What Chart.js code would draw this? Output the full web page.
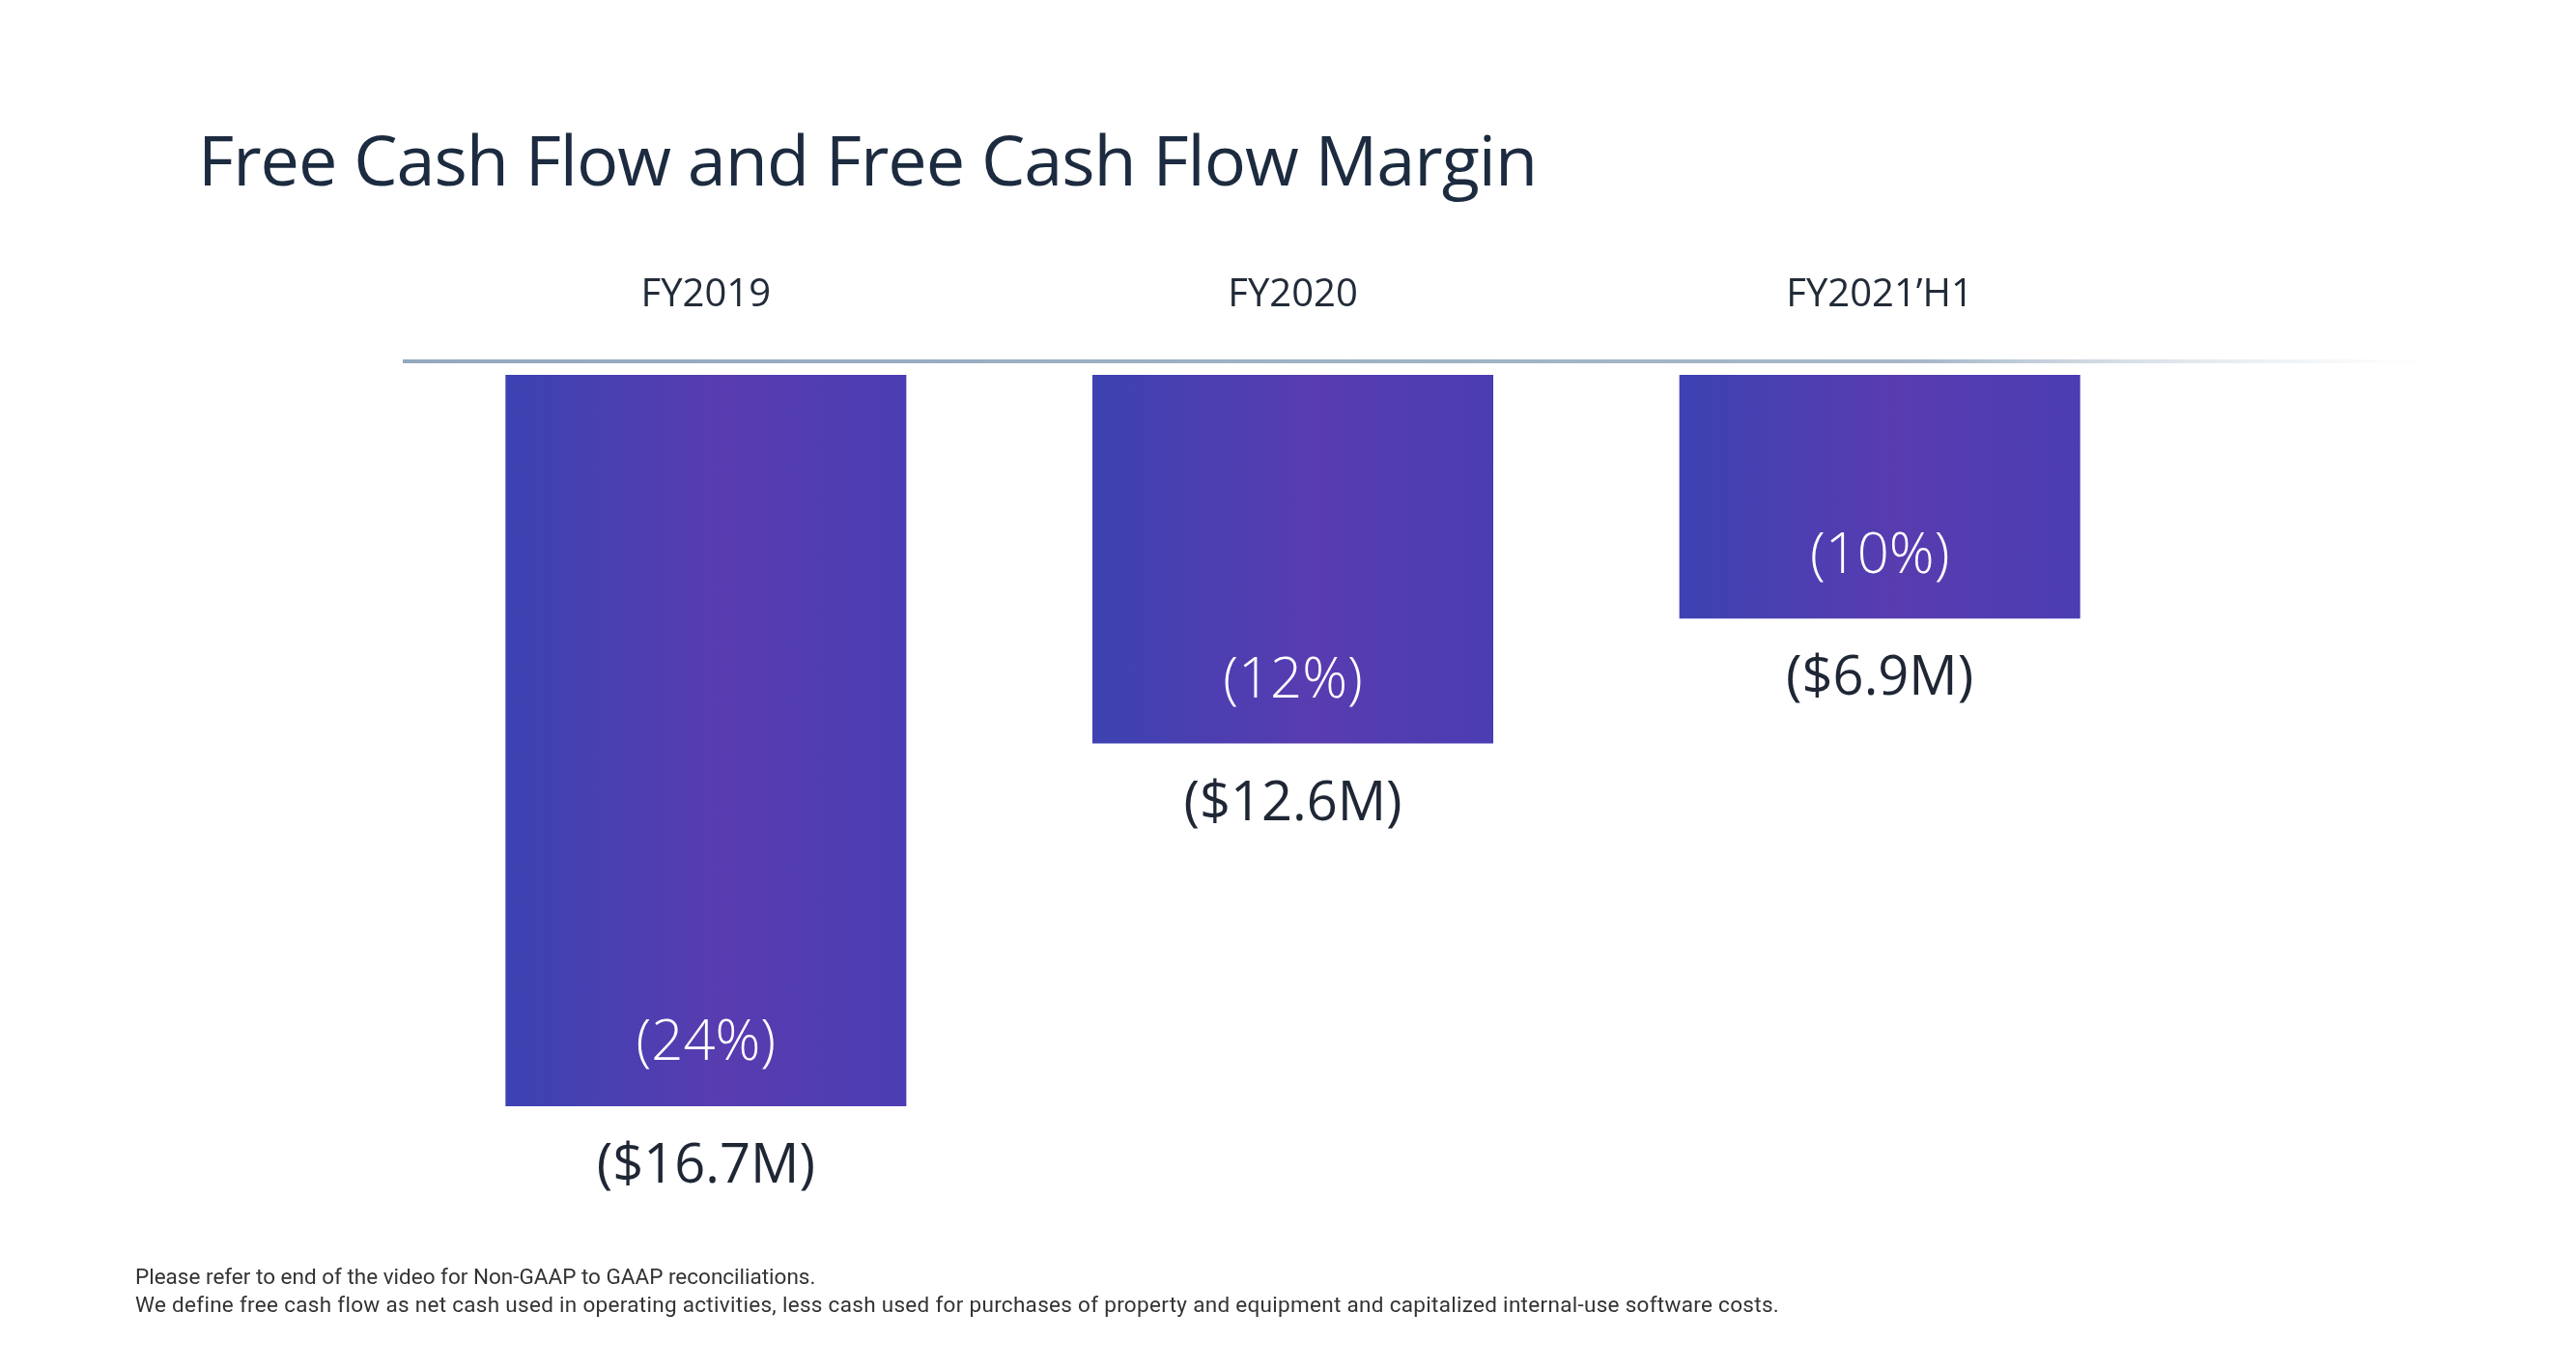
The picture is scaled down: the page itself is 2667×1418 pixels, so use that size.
<!DOCTYPE html>
<html>
<head>
<meta charset="utf-8">
<script src="https://cdn.jsdelivr.net/npm/chart.js@4.4.1/dist/chart.umd.min.js"></script>
<style>
  html, body { margin: 0; padding: 0; background: #fff; }
  body { width: 2667px; height: 1418px; position: relative; overflow: hidden; font-family: "Open Sans", sans-serif; }
  #title { position: absolute; left: 205px; top: 115px; margin: 0; font-size: 72px; font-weight: 400; color: #1c2b3f; letter-spacing: -1px; white-space: nowrap; }
  #wrap { position: absolute; left: 0; top: 0; width: 2667px; height: 1418px; }
  .note { position: absolute; left: 140px; font-family: Roboto, sans-serif; font-size: 22.5px; color: #333; white-space: nowrap; }
</style>
</head>
<body>
<h1 id="title">Free Cash Flow and Free Cash Flow Margin</h1>
<div id="wrap"><canvas id="barChart"></canvas></div>
<div class="note" style="top:1308px">Please refer to end of the video for Non-GAAP to GAAP reconciliations.</div>
<div class="note" style="top:1337px; letter-spacing:0.3px">We define free cash flow as net cash used in operating activities, less cash used for purchases of property and equipment and capitalized internal-use software costs.</div>
<script>
const periods = ["FY2019", "FY2020", "FY2021\u2019H1"];
const barDepth = [-24, -12.1, -8.0]; // bar depth as drawn, in margin points
const marginLabels = ["(24%)", "(12%)", "(10%)"];
const cashLabels = ["($16.7M)", "($12.6M)", "($6.9M)"];

// fill each bar with its own left-to-right gradient
function barFill(context) {
  const chart = context.chart;
  const area = chart.chartArea;
  if (!area) return "#4c3cb2";
  const xs = chart.scales.x;
  const cx = xs.getPixelForValue(context.dataIndex);
  const half = (area.right - area.left) / periods.length * 0.683 / 2;
  const g = chart.ctx.createLinearGradient(cx - half, 0, cx + half, 0);
  g.addColorStop(0, "#3d42b2");
  g.addColorStop(0.55, "#583cb0");
  g.addColorStop(1, "#4b3db3");
  return g;
}

const labelPlugin = {
  id: "labels",
  afterDatasetsDraw(chart) {
    const ctx = chart.ctx;
    const xs = chart.scales.x;
    const ys = chart.scales.y;
    const top = ys.getPixelForValue(0);
    ctx.save();
    // fading top rule
    const g = ctx.createLinearGradient(417, 0, 2520, 0);
    g.addColorStop(0, "#93a9bf");
    g.addColorStop(0.75, "#a7b8c9");
    g.addColorStop(1, "rgba(220,228,236,0)");
    ctx.fillStyle = g;
    ctx.fillRect(417, top - 16, 2103, 4);

    ctx.textAlign = "center";
    ctx.textBaseline = "middle";
    periods.forEach((p, i) => {
      const x = xs.getPixelForValue(i);
      const bottom = ys.getPixelForValue(barDepth[i]);
      ctx.fillStyle = "#222b38";
      ctx.font = "40px 'Open Sans', sans-serif";
      ctx.fillText(p, x, 306);
      ctx.fillStyle = "#ffffff";
      ctx.font = "300 58px 'Open Sans', sans-serif";
      ctx.fillText(marginLabels[i], x, bottom - 64);
      ctx.fillStyle = "#1f2735";
      ctx.font = "56px 'Open Sans', sans-serif";
      ctx.fillText(cashLabels[i], x, bottom + 63);
    });
    ctx.restore();
  }
};

const ctx = document.getElementById("barChart").getContext("2d");
const barChart = new Chart(ctx, {
  type: "bar",
  data: {
    labels: periods,
    datasets: [
      {
        data: barDepth,
        backgroundColor: barFill,
        borderWidth: 0,
        categoryPercentage: 1,
        barPercentage: 0.683,
      },
    ],
  },
  options: {
    responsive: true,
    maintainAspectRatio: false,
    animation: false,
    layout: { padding: { top: 388, bottom: 210, left: 427, right: 417 } },
    scales: {
      x: { display: false },
      y: { display: false, min: -26, max: 0 },
    },
    plugins: {
      legend: { display: false },
      tooltip: { enabled: false },
    },
  },
  plugins: [labelPlugin],
});
</script>
</body>
</html>
